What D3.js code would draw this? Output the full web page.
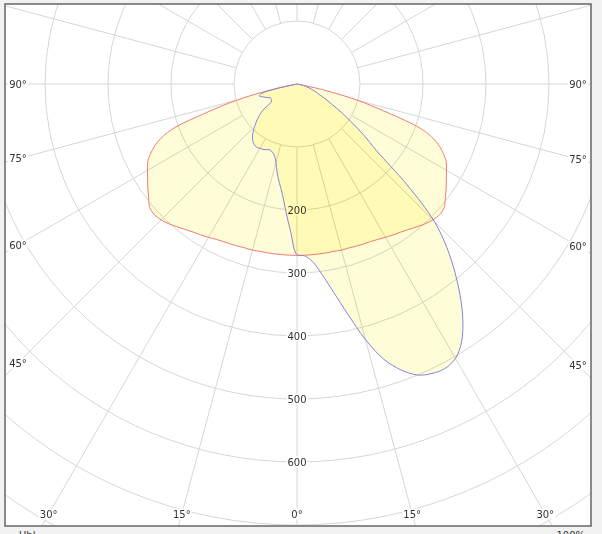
<!DOCTYPE html>
<html>
<head>
<meta charset="utf-8">
<script src="https://cdn.jsdelivr.net/npm/d3@7"></script>
<style>
  html, body { margin: 0; padding: 0; background: #f2f2f2; }
  svg { display: block; }
  text { font-family: "DejaVu Sans", Verdana, sans-serif; font-size: 10px; fill: #333; }
</style>
</head>
<body>
<svg id="chart" width="602" height="534"></svg>
<script>
// gamma angles (deg from nadir), same grid for every half-plane
var gammas = [0, 2.5, 5, 7.5, 10, 12.5, 15, 17.5, 20, 22.5, 25, 27.5, 30, 32.5, 35, 37.5,
              40, 42.5, 45, 47.5, 50, 52.5, 55, 57.5, 60, 62.5, 65, 67.5, 70, 72.5, 75,
              77.5, 80, 82.5, 85, 87.5, 90]

// C0 - C180 plane (symmetric), cd
var planeC0 = [272, 272, 272, 272, 272, 272, 273, 273, 274, 275, 276, 278, 281, 284, 287, 291,
               296, 301, 305, 307, 305, 297, 289, 281, 274, 267, 255, 239, 212, 150, 98,
               40, 0, 0, 0, 0, 0]

// C90 - C270 plane, left half (C270) and right half (C90), cd
var planeC270 = [271, 234, 203, 177, 160, 145, 129, 119, 115, 113, 115, 117, 118, 119, 118, 115,
                 110, 103, 95, 87, 78, 68, 50, 48, 47, 48, 51, 55, 59, 63, 58,
                 30, 0, 0, 0, 0, 0]
var planeC90 = [271, 273, 283, 305, 336, 375, 420, 458, 483, 500, 507, 509, 503, 486, 459, 426,
                390, 352, 308, 237, 165, 134, 106, 83, 63, 50, 38, 31, 25, 20, 14,
                10, 6, 4, 2, 1, 0]

// grid / tick values
var ringValues = [100, 200, 300, 400, 500, 600, 700, 800, 900]
var ringLabels = [200, 300, 400, 500, 600]
var spokeAngles = [-165, -150, -135, -120, -105, -90, -75, -60, -45, -30, -15, 0,
                   15, 30, 45, 60, 75, 90, 105, 120, 135, 150, 165, 180]
var sideLabels = [90, 75, 60, 45]
var bottomLabels = [-30, -15, 0, 15, 30]

var W = 602, H = 534
var cx = 297, cy = 84
var frame = { x: 5, y: 4, w: 586, h: 522 }

var svg = d3.select("#chart")

// scales: cd -> px, signed angle (deg, 0 = nadir, negative = left) -> lineRadial angle
var r = d3.scaleLinear().domain([0, 100]).range([0, 63])
var a = d3.scaleLinear().domain([-180, 180]).range([2 * Math.PI, 0])

svg.append("defs").append("clipPath")
   .attr("id", "frame-clip")
   .append("rect")
   .attr("x", frame.x).attr("y", frame.y)
   .attr("width", frame.w).attr("height", frame.h)

svg.append("rect")
   .attr("x", frame.x).attr("y", frame.y)
   .attr("width", frame.w).attr("height", frame.h)
   .attr("fill", "#fff")

var plot = svg.append("g")
   .attr("clip-path", "url(#frame-clip)")
   .style("isolation", "isolate")

var g = plot.append("g")
   .attr("transform", "translate(" + cx + "," + cy + ")")

// rings
g.selectAll(".ring")
 .data(ringValues)
 .join("circle")
 .attr("class", "ring")
 .attr("r", function (d) { return r(d) })
 .attr("fill", "none")
 .attr("stroke", "#d6d6d6")
 .attr("stroke-width", 1)

// spokes, starting at the 100 ring
g.selectAll(".spoke")
 .data(spokeAngles)
 .join("line")
 .attr("class", "spoke")
 .attr("x1", function (d) { return d3.pointRadial(a(d), r(100))[0] })
 .attr("y1", function (d) { return d3.pointRadial(a(d), r(100))[1] })
 .attr("x2", function (d) { return d3.pointRadial(a(d), r(1000))[0] })
 .attr("y2", function (d) { return d3.pointRadial(a(d), r(1000))[1] })
 .attr("stroke", "#d6d6d6")
 .attr("stroke-width", 1)

// labels with white boxes (they cut the grid lines)
var labels = plot.append("g")

function addLabel(x, y, txt) {
  var t = labels.append("text")
     .attr("x", x).attr("y", y)
     .attr("text-anchor", "middle")
     .attr("dominant-baseline", "central")
     .text(txt)
  var b = t.node().getBBox()
  labels.insert("rect", "text")
     .attr("x", b.x - 1).attr("y", b.y)
     .attr("width", b.width + 2).attr("height", b.height)
     .attr("fill", "#fff")
}

ringLabels.forEach(function (v) {
  addLabel(cx, cy + r(v), "" + v)
})

sideLabels.forEach(function (ang) {
  var rad = ang * Math.PI / 180
  var lx = 18, rx = 578
  addLabel(lx, cy + (cx - lx) * Math.cos(rad) / Math.sin(rad), ang + "°")
  addLabel(rx, cy + (rx - cx) * Math.cos(rad) / Math.sin(rad), ang + "°")
})

bottomLabels.forEach(function (ang) {
  var ly = 514
  var x = cx + (ly - cy) * Math.tan(ang * Math.PI / 180)
  addLabel(x, ly, Math.abs(ang) + "°")
})

// curve outline: left half from 90 down to 0, right half from 0 up to 90
function halfPlanes(leftVals, rightVals) {
  var pts = []
  for (var i = gammas.length - 1; i >= 0; i--) pts.push({ s: -gammas[i], v: leftVals[i] })
  for (var j = 1; j < gammas.length; j++) pts.push({ s: gammas[j], v: rightVals[j] })
  return pts
}

var curves = [
  { name: "C0-C180", pts: halfPlanes(planeC0, planeC0), stroke: "#ef7b74" },
  { name: "C90-C270", pts: halfPlanes(planeC270, planeC90), stroke: "#8482dc" }
]

var line = d3.lineRadial()
   .angle(function (d) { return a(d.s) })
   .radius(function (d) { return r(d.v) })
   .curve(d3.curveCatmullRom.alpha(0.5))

// fills, multiplied so the overlap gets deeper yellow
plot.append("g")
    .attr("transform", "translate(" + cx + "," + cy + ")")
    .selectAll("path")
    .data(curves)
    .join("path")
    .attr("d", function (d) { return line(d.pts) + "Z" })
    .attr("fill", "#fffdd8")
    .style("mix-blend-mode", "multiply")

plot.append("g")
    .attr("transform", "translate(" + cx + "," + cy + ")")
    .selectAll("path")
    .data(curves)
    .join("path")
    .attr("d", function (d) { return line(d.pts) })
    .attr("fill", "none")
    .attr("stroke", function (d) { return d.stroke })
    .attr("stroke-width", 1)

// frame
svg.append("rect")
   .attr("x", frame.x).attr("y", frame.y)
   .attr("width", frame.w).attr("height", frame.h)
   .attr("fill", "none")
   .attr("stroke", "#666")
   .attr("stroke-width", 1.5)

// footer text, cut by the window edge as in the original
svg.append("text").attr("x", 19).attr("y", 539).text("Ubl")
svg.append("text").attr("x", 585).attr("y", 539).attr("text-anchor", "end").text("100%")
</script>
</body>
</html>
